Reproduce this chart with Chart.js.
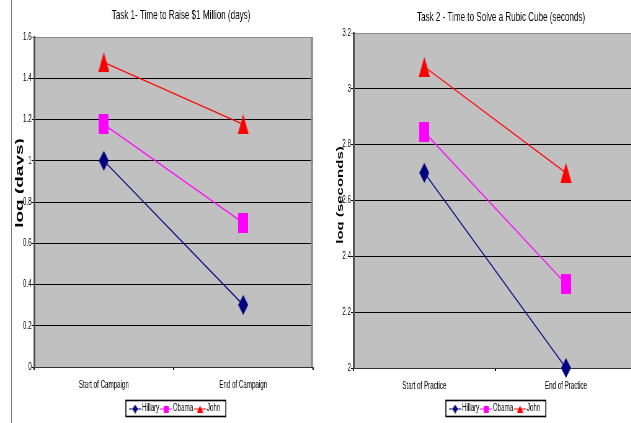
<!DOCTYPE html>
<html>
<head>
<meta charset="utf-8">
<script src="https://cdn.jsdelivr.net/npm/chart.js@4/dist/chart.umd.min.js"></script>
<style>
  html, body { margin: 0; padding: 0; background: #fff; overflow: hidden; width: 631px; height: 423px; }
  .frame { position: absolute; left: 11px; top: 0; width: 1px; height: 423px; background: #777; }
  canvas { position: absolute; top: 0; transform-origin: 0 0; transform: scaleX(0.62); }
  #task1 { left: 0; }
  #task2 { left: 320px; }
</style>
</head>
<body>
<div class="frame"></div>
<canvas id="task1" width="516" height="423"></canvas>
<canvas id="task2" width="548" height="423"></canvas>
<script>
// Both canvases are drawn wide and squeezed horizontally by the CSS transform above.
const FAMILY = '"Liberation Sans", Arial, sans-serif';

const seriesNames = ['Hillary', 'Obama', 'John'];
const seriesColors = ['#000080', '#FF00FF', '#FF0000'];

// Task 1: log of days needed to raise $1 million
const campaignStages = ['Start of Campaign', 'End of Campaign'];
const hillaryDays = [1.0, 0.301];
const obamaDays = [1.176, 0.699];
const johnDays = [1.477, 1.176];
const dayTicks = [0, 0.2, 0.4, 0.6, 0.8, 1, 1.2, 1.4, 1.6];

// Task 2: log of seconds needed to solve a Rubic cube
const practiceStages = ['Start of Practice', 'End of Practice'];
const hillarySeconds = [2.699, 2.0];
const obamaSeconds = [2.845, 2.301];
const johnSeconds = [3.079, 2.699];
const secondTicks = [2, 2.2, 2.4, 2.6, 2.8, 3, 3.2];

function makeMarker(shape, w, h, color) {
  const c = document.createElement('canvas');
  c.width = w; c.height = h;
  const g = c.getContext('2d');
  g.fillStyle = color;
  g.beginPath();
  if (shape === 'diamond') {
    g.moveTo(w / 2, 0); g.lineTo(w, h / 2); g.lineTo(w / 2, h); g.lineTo(0, h / 2);
  } else if (shape === 'square') {
    g.rect(0, 0, w, h);
  } else {
    g.moveTo(w / 2, 0); g.lineTo(w, h); g.lineTo(0, h);
  }
  g.closePath();
  g.fill();
  return c;
}

const shapes = ['diamond', 'square', 'triangle'];
const pointMarkers = [
  makeMarker('diamond', 16, 20, seriesColors[0]),
  makeMarker('square', 16, 20, seriesColors[1]),
  makeMarker('triangle', 18, 20, seriesColors[2])
];
const legendMarkers = [
  makeMarker('diamond', 9, 9, seriesColors[0]),
  makeMarker('square', 8, 7, seriesColors[1]),
  makeMarker('triangle', 10, 7, seriesColors[2])
];

// Plot background, frame, titles and the boxed legend
const decor = {
  id: 'decor',
  beforeDraw(chart) {
    const { ctx, chartArea: a } = chart;
    ctx.save();
    ctx.fillStyle = '#C0C0C0';
    ctx.fillRect(a.left, a.top, a.right - a.left, a.bottom - a.top);
    ctx.restore();
  },
  beforeDatasetsDraw(chart) {
    const { ctx, chartArea: a } = chart;
    ctx.save();
    ctx.strokeStyle = '#8a8a8a';
    ctx.lineWidth = 3;
    ctx.beginPath();
    ctx.moveTo(a.right - 1.5, a.top);
    ctx.lineTo(a.right - 1.5, a.bottom);
    ctx.stroke();
    ctx.restore();
  },
  afterDraw(chart, args, opts) {
    const { ctx } = chart;
    ctx.save();
    // chart title
    ctx.fillStyle = '#000';
    ctx.font = `${opts.titleSize}px ${FAMILY}`;
    ctx.textAlign = 'center';
    ctx.textBaseline = 'middle';
    ctx.fillText(opts.title, opts.titleX, opts.titleY);

    // vertical axis title
    ctx.save();
    ctx.beginPath();
    ctx.rect(0, 0, opts.yTitleX + 1, chart.height);
    ctx.clip();
    ctx.translate(opts.yTitleX, opts.yTitleY);
    ctx.rotate(-Math.PI / 2);
    ctx.font = `bold ${opts.yTitleSize}px ${FAMILY}`;
    ctx.textAlign = 'center';
    ctx.textBaseline = 'alphabetic';
    ctx.fillText(opts.yTitle, 0, 0);
    ctx.restore();

    // legend
    const lg = opts.legend;
    ctx.font = `10px ${FAMILY}`;
    ctx.textAlign = 'left';
    ctx.textBaseline = 'middle';
    let x = lg.left + 5;
    const cy = (lg.top + lg.bottom) / 2;
    chart.data.datasets.forEach((ds, i) => {
      ctx.strokeStyle = ds.borderColor;
      ctx.lineWidth = 1;
      ctx.beginPath();
      ctx.moveTo(x, cy + 0.5);
      ctx.lineTo(x + 20, cy + 0.5);
      ctx.stroke();
      const m = legendMarkers[i];
      ctx.drawImage(m, x + 10 - m.width / 2, cy + 0.5 - m.height / 2);
      x += 21;
      ctx.fillStyle = '#000';
      ctx.fillText(ds.label, x, cy);
      x += ctx.measureText(ds.label).width + 1;
    });
    ctx.strokeStyle = '#000';
    ctx.lineWidth = 1.6;
    ctx.strokeRect(lg.left, lg.top, x + 8 - lg.left, lg.bottom - lg.top);
    ctx.restore();
  }
};

function buildChart(id, cfg) {
  const datasets = cfg.series.map((vals, i) => ({
    label: seriesNames[i],
    data: vals,
    borderColor: seriesColors[i],
    backgroundColor: seriesColors[i],
    borderWidth: 1.3,
    pointStyle: pointMarkers[i],
    pointRadius: 10,
    pointHoverRadius: 10,
    tension: 0,
    clip: false
  }));
  const yMax = cfg.ticks[cfg.ticks.length - 1];
  return new Chart(document.getElementById(id), {
    type: 'line',
    data: { labels: cfg.categories, datasets },
    plugins: [decor],
    options: {
      responsive: false,
      animation: false,
      events: [],
      layout: { padding: { top: cfg.top, left: 0, right: cfg.right, bottom: 0 } },
      plugins: {
        legend: { display: false },
        title: { display: false },
        tooltip: { enabled: false },
        decor: cfg.decor
      },
      scales: {
        x: {
          offset: true,
          grid: { offset: true, drawOnChartArea: false, drawTicks: true, tickLength: 3, color: '#000', lineWidth: 2 },
          border: { display: true, color: '#333', width: 1 },
          ticks: { font: { family: FAMILY, size: 10 }, color: '#000', padding: 9, autoSkip: false, maxRotation: 0, minRotation: 0 },
          afterFit: s => { s.height = cfg.xHeight; }
        },
        y: {
          min: cfg.ticks[0],
          max: yMax,
          afterBuildTicks: s => { s.ticks = cfg.ticks.map(v => ({ value: v })); },
          grid: {
            color: c => (c.tick && c.tick.value === yMax ? '#8a8a8a' : '#000'),
            lineWidth: 1,
            tickLength: 4,
            drawTicks: true
          },
          border: { display: true, color: '#505050', width: 3 },
          ticks: { font: { family: FAMILY, size: 10 }, color: '#000', padding: 0, callback: v => String(v) },
          afterFit: s => { s.width = cfg.yWidth; }
        }
      }
    }
  });
}

buildChart('task1', {
  categories: campaignStages,
  series: [hillaryDays, obamaDays, johnDays],
  ticks: dayTicks,
  top: 37, right: 3, yWidth: 55, xHeight: 56,
  decor: {
    title: 'Task 1- Time to Raise $1 Million (days)', titleSize: 13, titleX: 292, titleY: 15,
    yTitle: 'log (days)', yTitleSize: 19, yTitleX: 37, yTitleY: 183,
    legend: { left: 203, top: 400.5, bottom: 416.5 }
  }
});

buildChart('task2', {
  categories: practiceStages,
  series: [hillarySeconds, obamaSeconds, johnSeconds],
  ticks: secondTicks,
  top: 33, right: 37, yWidth: 54, xHeight: 55,
  decor: {
    title: 'Task 2 - Time to Solve a Rubic Cube (seconds)', titleSize: 13, titleX: 292, titleY: 17,
    yTitle: 'log (seconds)', yTitleSize: 15, yTitleX: 37, yTitleY: 195,
    legend: { left: 203, top: 400.5, bottom: 416.5 }
  }
});
</script>
</body>
</html>
